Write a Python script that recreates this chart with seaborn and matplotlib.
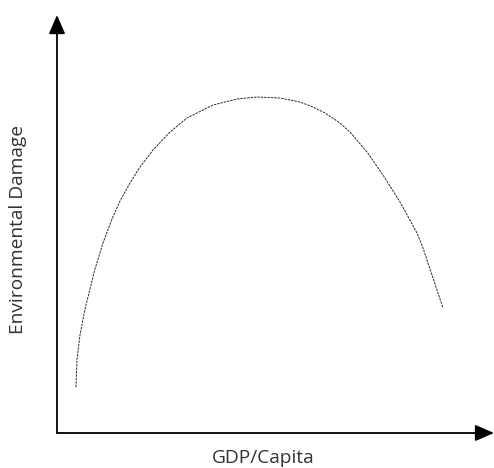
import matplotlib
matplotlib.use("Agg")
import matplotlib.pyplot as plt
import seaborn as sns
import pandas as pd

# values (arbitrary units, origin at the axes corner)
gdp_per_capita = [19, 20, 23, 28, 38, 46, 55, 63, 73, 83, 96, 113, 130, 156, 180,
                  200, 223, 243, 256, 268, 283, 293, 310, 326, 343, 360, 366, 373, 386]
env_damage = [46, 74, 98, 124, 164, 190, 214, 232, 250, 266, 283, 301, 315, 328, 334,
              336, 335, 331, 326, 320, 310, 301, 281, 258, 231, 200, 185, 164, 125]
x_label = "GDP/Capita"
y_label = "Environmental Damage"

sns.set_style("white")
plt.rcParams["font.family"] = ["Open Sans", "DejaVu Sans"]

df = pd.DataFrame({"gdp": gdp_per_capita, "damage": env_damage})

W, H = 494, 468
fig = plt.figure(figsize=(W / 100, H / 100), dpi=100)
ax = fig.add_axes([57 / W, 35 / H, (W - 57) / W, (433 - 15) / H])
ax.set_xlim(0, W - 57)
ax.set_ylim(0, 433 - 15)

sns.lineplot(data=df, x="gdp", y="damage", ax=ax, sort=False, color="#2b2b2b",
             linewidth=0.7, linestyle=(0, (2.5, 1)))

for s in ax.spines.values():
    s.set_visible(False)
ax.set_xticks([])
ax.set_yticks([])
ax.set_xlabel("")
ax.set_ylabel("")

arrow = dict(arrowstyle="-|>,head_length=1.15,head_width=0.5", color="black",
             lw=1.3, mutation_scale=10, shrinkA=0, shrinkB=0)
ax.annotate("", xy=(W - 57, 0), xytext=(0, 0), arrowprops=arrow, annotation_clip=False)
ax.annotate("", xy=(0, 433 - 15), xytext=(0, 0), arrowprops=arrow, annotation_clip=False)

fig.text(263 / W, 1 - 458 / H, x_label, ha="center", va="center", fontsize=13.8, color="#333333")
fig.text(18 / W, 1 - 230 / H, y_label, ha="center", va="center", rotation=90,
         fontsize=13.8, color="#333333")

fig.savefig("out.png", dpi=100)
